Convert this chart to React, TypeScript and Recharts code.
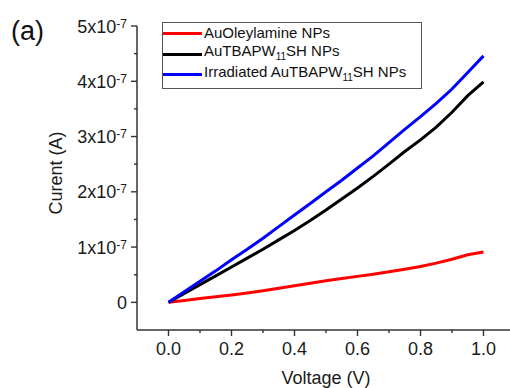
import React from 'react';
import { LineChart, Line, XAxis, YAxis, Label } from 'recharts';

const FONT = '"Liberation Sans", Arial, sans-serif';

// Voltage (V)
const voltage = [0, 0.05, 0.1, 0.15, 0.2, 0.25, 0.3, 0.35, 0.4, 0.45, 0.5, 0.55, 0.6, 0.65, 0.7, 0.75, 0.8, 0.85, 0.9, 0.95, 1.0];

// Current (A)
const auOleylamine = [0, 0.035e-7, 0.07e-7, 0.1e-7, 0.135e-7, 0.17e-7, 0.21e-7, 0.255e-7, 0.3e-7, 0.345e-7, 0.39e-7, 0.43e-7, 0.47e-7, 0.51e-7, 0.555e-7, 0.6e-7, 0.65e-7, 0.71e-7, 0.78e-7, 0.86e-7, 0.91e-7];
const auTbapw = [0, 0.16e-7, 0.32e-7, 0.48e-7, 0.64e-7, 0.8e-7, 0.96e-7, 1.13e-7, 1.3e-7, 1.48e-7, 1.67e-7, 1.87e-7, 2.07e-7, 2.28e-7, 2.5e-7, 2.73e-7, 2.94e-7, 3.17e-7, 3.44e-7, 3.74e-7, 3.99e-7];
const irradiatedAuTbapw = [0, 0.19e-7, 0.38e-7, 0.57e-7, 0.77e-7, 0.96e-7, 1.16e-7, 1.37e-7, 1.58e-7, 1.79e-7, 2.0e-7, 2.21e-7, 2.43e-7, 2.65e-7, 2.89e-7, 3.13e-7, 3.36e-7, 3.6e-7, 3.86e-7, 4.16e-7, 4.46e-7];

const xTicks = [0, 0.1, 0.2, 0.3, 0.4, 0.5, 0.6, 0.7, 0.8, 0.9, 1.0];
const yTicks = [0, 0.5e-7, 1e-7, 1.5e-7, 2e-7, 2.5e-7, 3e-7, 3.5e-7, 4e-7, 4.5e-7, 5e-7];

const data = voltage.map((v, i) => ({
  v,
  red: auOleylamine[i],
  black: auTbapw[i],
  blue: irradiatedAuTbapw[i],
}));

const AXIS = '#333';

const XTick = (props: any) => {
  const { x, y, payload } = props;
  const tenths = Math.round(payload.value * 10);
  const major = tenths % 2 === 0;
  return (
    <g>
      <line x1={x} x2={x} y1={y} y2={y + (major ? 6 : 3)} stroke={AXIS} strokeWidth={1.4} />
      {major && (
        <text x={x} y={y + 25} textAnchor="middle" fontSize={18} fontFamily={FONT} fill="#1a1a1a">
          {payload.value.toFixed(1)}
        </text>
      )}
    </g>
  );
};

const YTick = (props: any) => {
  const { x, y, payload } = props;
  const halves = Math.round(payload.value / 0.5e-7);
  const major = halves % 2 === 0;
  const n = halves / 2;
  return (
    <g>
      <line x1={x} x2={x - (major ? 6 : 3)} y1={y} y2={y} stroke={AXIS} strokeWidth={1.4} />
      {major && (
        <text x={x - 10} y={y + 6.5} textAnchor="end" fontSize={18} fontFamily={FONT} fill="#1a1a1a">
          {n === 0 ? '0' : (
            <>
              {`${n}x10`}
              <tspan dy={-5} fontSize={12}>-7</tspan>
            </>
          )}
        </text>
      )}
    </g>
  );
};

const YTitle = (props: any) => {
  const { viewBox } = props;
  const cx = 56;
  const cy = viewBox.y + viewBox.height / 2 - 5;
  return (
    <text
      x={cx}
      y={cy}
      transform={`rotate(-90 ${cx} ${cy})`}
      textAnchor="middle"
      dy={6}
      fontSize={18}
      fontFamily={FONT}
      fill="#1a1a1a"
    >
      Curent (A)
    </text>
  );
};

const legendRows = [
  { color: '#ff0000', label: <>AuOleylamine NPs</> },
  { color: '#000000', label: <>AuTBAPW<sub style={{ fontSize: 10 }}>11</sub>SH NPs</> },
  { color: '#0000ff', label: <>Irradiated AuTBAPW<sub style={{ fontSize: 10 }}>11</sub>SH NPs</> },
];

export default function App() {
  return (
    <div style={{ position: 'absolute', left: 0, top: 0, width: 510, height: 388, overflow: 'hidden', background: '#fff' }}>
      <LineChart width={520} height={388} data={data} margin={{ top: 26, right: 5, left: 0, bottom: 0 }}>
        <XAxis
          dataKey="v"
          type="number"
          domain={[-0.1, 1.1]}
          allowDataOverflow
          ticks={xTicks}
          interval={0}
          tick={<XTick />}
          tickLine={false}
          tickSize={0}
          tickMargin={0}
          axisLine={{ stroke: AXIS, strokeWidth: 1.5 }}
          height={58}
        >
          <Label value="Voltage (V)" position="insideBottom" offset={4} fontSize={18} fontFamily={FONT} fill="#1a1a1a" />
        </XAxis>
        <YAxis
          type="number"
          domain={[-0.5e-7, 5e-7]}
          allowDataOverflow
          ticks={yTicks}
          interval={0}
          tick={<YTick />}
          tickLine={false}
          tickSize={0}
          tickMargin={0}
          axisLine={{ stroke: AXIS, strokeWidth: 1.5 }}
          width={137}
        >
          <Label content={<YTitle />} />
        </YAxis>
        <Line type="linear" dataKey="red" stroke="#ff0000" strokeWidth={3} dot={false} isAnimationActive={false} />
        <Line type="linear" dataKey="black" stroke="#000000" strokeWidth={3} dot={false} isAnimationActive={false} />
        <Line type="linear" dataKey="blue" stroke="#0000ff" strokeWidth={3} dot={false} isAnimationActive={false} />
      </LineChart>
      <svg width={60} height={50} style={{ position: 'absolute', left: 0, top: 0 }}>
        <text x={11} y={40} fontSize={27} fontFamily={FONT} fill="#111">(a)</text>
      </svg>
      <div
        style={{
          position: 'absolute',
          left: 162,
          top: 22,
          width: 260,
          height: 67,
          boxSizing: 'border-box',
          border: '1px solid #555',
          background: '#fff',
          fontFamily: FONT,
          fontSize: 15,
          color: '#111',
        }}
      >
        {legendRows.map((r, i) => (
          <div key={i} style={{ display: 'flex', alignItems: 'center', height: 20.7, lineHeight: '20px' }}>
            <span style={{ display: 'inline-block', width: 39, height: 3, background: r.color, marginRight: 2 }} />
            <span style={{ whiteSpace: 'nowrap' }}>{r.label}</span>
          </div>
        ))}
      </div>
    </div>
  );
}
